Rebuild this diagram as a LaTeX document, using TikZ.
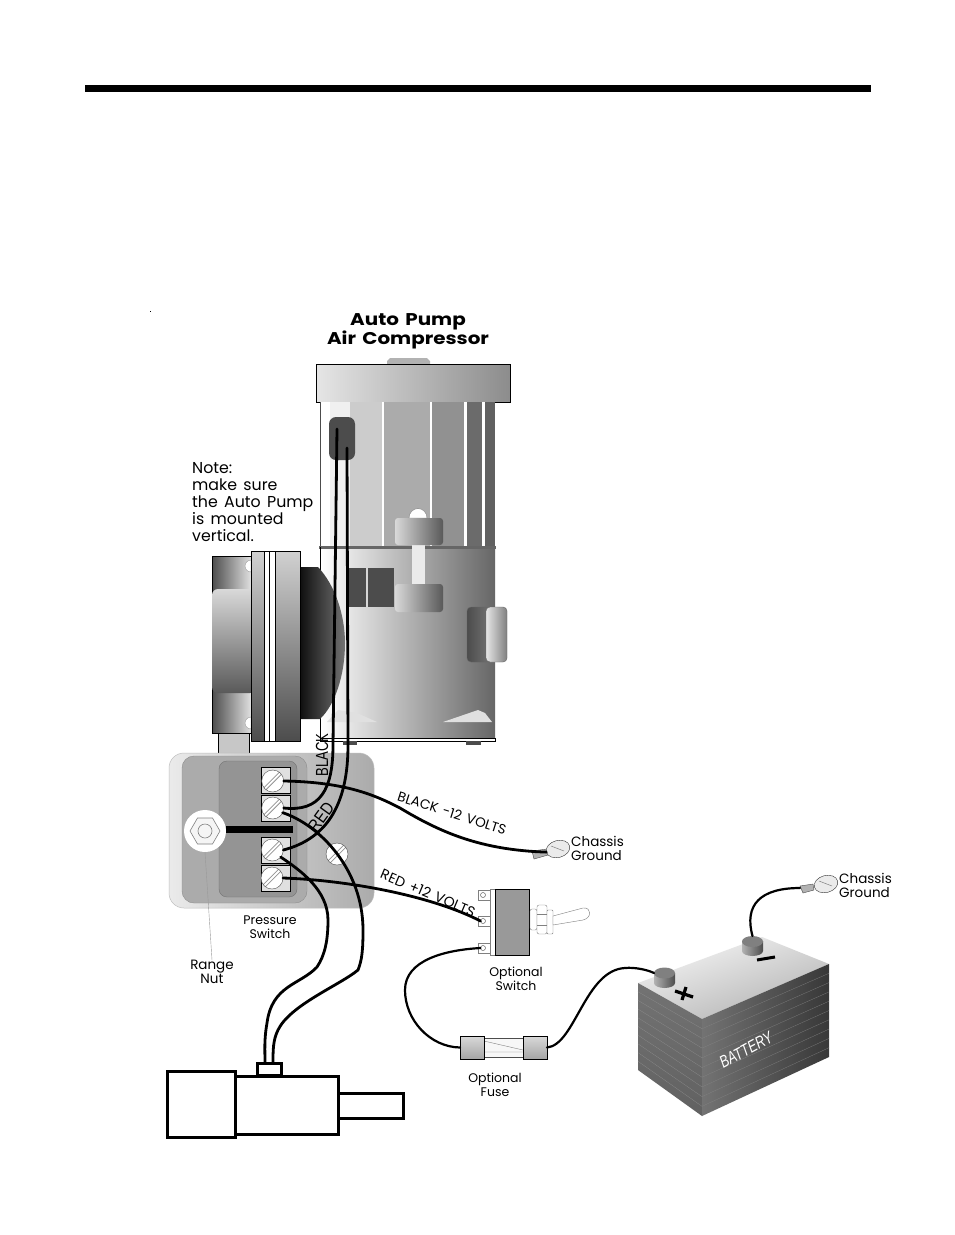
\documentclass[tikz,border=0pt]{standalone}
\usepackage{fontspec}
\setmainfont{Poppins}[WordSpace=1.5]
\newfontfamily\wirefont{Liberation Sans}
\usetikzlibrary{shapes.geometric}
\tikzset{
  screw node/.style={circle,draw=black!70,fill=white,inner sep=0pt,outer sep=0pt,minimum size=22pt,
    path picture={
      \draw[black!42,line width=3.6pt] (path picture bounding box.south west) -- (path picture bounding box.north east);
      \draw[white,line width=1.8pt] (path picture bounding box.south west) -- (path picture bounding box.north east);
    }},
  term node/.style={rectangle,draw=black,line width=1pt,fill=black!12,inner sep=0pt,outer sep=0pt,minimum width=29pt,minimum height=26pt},
  motor node/.style={rectangle,draw=black,line width=3pt,fill=white,inner sep=0pt,outer sep=0pt},
  label node/.style={font=\fontsize{13.5}{14}\selectfont,align=center,inner sep=0pt},
  lug node/.style={ellipse,draw=black!80,fill=black!8,inner sep=0pt,outer sep=0pt,minimum width=24pt,minimum height=17pt},
  hole node/.style={circle,draw=black!60,fill=white,inner sep=0pt,outer sep=0pt,minimum size=5pt,line width=.5pt},
  post node/.style={ellipse,fill=black!50,inner sep=0pt,outer sep=0pt,minimum width=21pt,minimum height=11pt},
}
\begin{document}
\begin{tikzpicture}[x=1pt,y=-1pt,wire/.style={draw=black,line width=2.8pt,line cap=round},
                thin wire/.style={draw=black,line width=2.2pt,line cap=round}]
  \useasboundingbox (0,0) rectangle (954,1235);
  \fill[white] (0,0) rectangle (954,1235);
  \fill[black] (85,85) rectangle (871,92);
  \fill[black] (149.5,311) rectangle (150.5,312);

  % compressor
  \node[font=\bfseries\fontsize{17}{19}\selectfont,align=center,inner sep=0pt] (title) at (408,331.5) {\scalebox{1.17}[1]{Auto Pump}\\\scalebox{1.17}[1]{Air Compressor}};
  \fill[black!30] (387,365) -- (387,361) -- (390,358) -- (427,358) -- (430,361) -- (430,365) -- cycle;
  \shade[left color=black!10,right color=black!45,draw=black,line width=.8pt] (316,364) rectangle (510,402);

  \fill[white] (320,402) rectangle (495,547);
  \fill[black!6] (330,402) rectangle (350,547);
  \fill[black!20] (350,402) rectangle (382,547);
  \fill[black!33] (384,402) rectangle (430,547);
  \fill[black!43] (432,402) rectangle (464,547);
  \fill[black!58] (467,402) rectangle (482,547);
  \fill[black!62] (485,402) rectangle (495,547);
  \draw[black!70,line width=.6pt] (320,402) -- (320,547);
  \shade[left color=white,middle color=black!22,right color=black!60] (320,547) rectangle (495,738);
  \fill[black!60] (319,545.5) rectangle (496,548.5);
  \draw[black,line width=.7pt] (320,547) -- (320,741) -- (495,741) -- (495,738) -- (320,738);
  \fill[black!70] (343,741) rectangle (357,745);
  \fill[black!70] (466,741) rectangle (481,745);
  \fill[black!12] (327,722) -- (338,710) -- (357,713) -- (377,722) -- cycle;
  \fill[black!12] (443,722) -- (478,710) -- (485,713) -- (492,722) -- cycle;

  % clamp and tab
  \fill[white,draw=black!50,line width=.4pt] (409,518) arc[start angle=180,end angle=360,x radius=9,y radius=9.5] -- cycle;
  \fill[black!8] (412,545) rectangle (425,585);
  \shade[left color=black!15,right color=black!65,rounded corners=3pt] (395,518) rectangle (443,545);
  \shade[left color=black!15,right color=black!65,rounded corners=3pt] (395,584) rectangle (443,612);
  \fill[black!70] (347,568) rectangle (366,607);
  \fill[black!70] (368,568) rectangle (394,607);
  \shade[left color=black!70,right color=black!55,rounded corners=4pt,draw=black!60,line width=.4pt] (467,607) rectangle (490,662);
  \shade[left color=black!10,right color=black!50,rounded corners=4pt,draw=black!60,line width=.4pt] (486,607) rectangle (507,662);

  % motor flange
  \shade[left color=black!95,right color=black!55] (299,567) -- (318,567) .. controls (335,585) and (345,615) .. (345,643) .. controls (345,675) and (335,705) .. (320,719) -- (299,719) -- cycle;
  \shade[left color=black!70,right color=black!12,draw=black,line width=.8pt] (212,556) rectangle (251,733);
  \shade[top color=black!15,middle color=black!35,bottom color=black!65,rounded corners=6pt] (212,589) rectangle (256,693);
  \fill[white,draw=black!40,line width=.4pt] (251,560) arc[start angle=270,end angle=90,radius=6] -- cycle;
  \fill[white,draw=black!40,line width=.4pt] (251,717) arc[start angle=270,end angle=90,radius=6] -- cycle;
  \shade[top color=black!18,bottom color=black!70,draw=black,line width=.8pt] (251,551) rectangle (300,741);
  \fill[white,draw=black,line width=.6pt] (264,551) rectangle (275,741);
  \draw[black,line width=.8pt] (269.5,551) -- (269.5,741);
  \fill[black!22,draw=black,line width=.6pt] (218,733) rectangle (249,754);

  % grommet
  \node[rectangle,rounded corners=7pt,fill=black!70,inner sep=0pt,outer sep=0pt,minimum width=26pt,minimum height=43pt] (grommet) at (342,438.5) {};
  \coordinate (g1) at (337,429);
  \coordinate (g2) at (347,448);

  % note
  \node[font=\fontsize{15.8}{17}\selectfont,align=left,anchor=north west,inner sep=0pt] (note) at (192,462.5) {Note:\\make sure\\the Auto Pump\\is mounted\\vertical.};

  % pressure switch
  \shade[left color=black!8,right color=black!33,draw=black!25,line width=.5pt,rounded corners=15pt] (169,753) rectangle (374,908);
  \fill[black!33,draw=black!45,line width=.4pt,rounded corners=12pt] (182,756) rectangle (307,903);
  \fill[black!42,draw=black!55,line width=.4pt,rounded corners=8pt] (219,761) rectangle (297,897);
  \fill[black] (226,826) rectangle (293,833);
  \node[term node] (t1) at (275.5,780) {};
  \node[term node] (t2) at (275.5,808) {};
  \node[term node] (t3) at (275.5,850) {};
  \node[term node] (t4) at (275.5,878) {};
  \node[screw node] (s1) at (272.7,781) {};
  \node[screw node] (s2) at (272.7,808) {};
  \node[screw node] (s3) at (272.3,850) {};
  \node[screw node] (s4) at (272,878) {};
  \node[screw node] (s5) at (337,854) {};
  \node[circle,fill=white,inner sep=0pt,outer sep=0pt,minimum size=42pt] (rnut) at (205,831) {};
  \node[regular polygon,regular polygon sides=6,draw=black!50,line width=.6pt,fill=black!4,inner sep=0pt,minimum size=30pt] at (rnut) {};
  \node[circle,draw=black!50,line width=.6pt,inner sep=0pt,minimum size=14pt] at (rnut) {};
  \node[label node,font=\fontsize{12.5}{14}\selectfont] (pswitch) at (270,927) {Pressure\\Switch};
  \node[label node,font=\fontsize{13.5}{14}\selectfont] (rangenut) at (212,972) {Range\\Nut};
  \draw[black!40,line width=.4pt] (rnut.south) -- (rangenut.north);

  % drive motor
  \node[motor node,minimum width=68pt,minimum height=66pt] (mend) at (201,1104) {};
  \node[motor node,minimum width=103pt,minimum height=58pt] (mbody) at (286.5,1105) {};
  \node[motor node,minimum width=65pt,minimum height=25pt] (mshaft) at (370.5,1105.5) {};
  \node[motor node,minimum width=24pt,minimum height=12pt] (mcap) at (269,1069.5) {};

  % optional switch
  \draw[black!50,line width=.4pt,fill=white] (478,890) rectangle (495,900);
  \draw[black!50,line width=.4pt,fill=white] (478,916) rectangle (495,926);
  \draw[black!50,line width=.4pt,fill=white] (478,943) rectangle (495,953);
  \draw[black!50,line width=.4pt,fill=white] (490,889) rectangle (495,955);
  \node[hole node] (h1) at (483,895) {};
  \node[hole node] (h2) at (483,921) {};
  \node[hole node] (h3) at (483,948) {};
  \node[rectangle,draw=black,line width=.9pt,fill=black!40,inner sep=0pt,outer sep=0pt,minimum width=34pt,minimum height=66pt] (sw) at (512,922) {};
  \draw[black!50,line width=.4pt,fill=white,rounded corners=2pt] (530,909) rectangle (537,930);
  \draw[black!50,line width=.4pt,fill=white,rounded corners=2pt] (537,905) rectangle (547,934);
  \draw[black!50,line width=.4pt] (537,914) -- (547,914) (537,925) -- (547,925);
  \draw[black!50,line width=.4pt,fill=white,rounded corners=1pt] (547,910) rectangle (553,934);
  \draw[black!50,line width=.4pt,fill=white] (553,916) -- (583,908) .. controls (592,907) and (592,918) .. (583,920) -- (553,925) -- cycle;
  \node[label node,font=\fontsize{12.5}{14}\selectfont] (swlabel) at (516,979) {Optional\\Switch};

  % fuse
  \fill[black!3,draw=black!70,line width=.5pt] (484,1038) rectangle (523,1057);
  \draw[black!50,line width=.4pt] (484,1041) -- (523,1050) (484,1052) -- (523,1052);
  \node[rectangle,draw=black,line width=.8pt,inner sep=0pt,outer sep=0pt,minimum width=24pt,minimum height=23pt,
    top color=black!15,middle color=black!55,bottom color=black!35] (fuse1) at (472,1047.5) {};
  \node[rectangle,draw=black,line width=.8pt,inner sep=0pt,outer sep=0pt,minimum width=24pt,minimum height=23pt,
    top color=black!15,middle color=black!55,bottom color=black!35] (fuse2) at (535,1047.5) {};
  \node[label node,font=\fontsize{12.5}{14}\selectfont] (fuselabel) at (495,1085) {Optional\\Fuse};

  % battery
  \coordinate (b1) at (638,983);
  \coordinate (b2) at (762,937);
  \coordinate (b3) at (829,964);
  \coordinate (b4) at (702,1019);
  \coordinate (b5) at (702,1116);
  \coordinate (b6) at (638,1070);
  \coordinate (b7) at (829,1057);
  \shade[top color=black!30,bottom color=black!4,shading angle=200] (b1) -- (b2) -- (b3) -- (b4) -- cycle;
  \shade[top color=black!55,bottom color=black!62] (b1) -- (b4) -- (b5) -- (b6) -- cycle;
  \shade[left color=black!55,right color=black!78] (b4) -- (b3) -- (b7) -- (b5) -- cycle;
  \foreach \i in {1,...,9} {
    \draw[black!44,line width=.2pt] (638,983+\i*8.7) -- (702,1019+\i*9.7);
    \draw[black!48,line width=.2pt] (702,1019+\i*9.7) -- (829,964+\i*9.3);
  }
  \node[font=\wirefont\itshape\fontsize{17}{17}\selectfont,text=white,rotate=28,inner sep=0pt] (batlabel) at (746,1050) {\scalebox{.75}[1]{BATTERY}};
  \draw[black,line width=3pt] (757,960) -- (775,957);
  \draw[black,line width=3.2pt] (675,991) -- (693,997);
  \draw[black,line width=3.2pt] (686,987) -- (682,1000);
  \shade[left color=black!30,right color=black!70] (654,973) -- (654,983) arc[start angle=180,end angle=0,x radius=10.5,y radius=5] -- (675,973) -- cycle;
  \shade[left color=black!30,right color=black!70] (742,941) -- (742,951) arc[start angle=180,end angle=0,x radius=10.5,y radius=5] -- (763,941) -- cycle;
  \node[post node] (pos) at (664.5,973) {};
  \node[post node] (neg) at (752.5,941.5) {};

  % ground lugs
  \fill[black!30,draw=black!70,line width=.4pt] (532,851) -- (547,849) -- (548,855) -- (534,859) -- cycle;
  \node[lug node,rotate=15] (lug1) at (558,849) {};
  \draw[black!50,line width=.5pt] (551,846) -- (564,851);
  \node[label node,align=left,anchor=west] (ground1) at (571,848.5) {Chassis\\Ground};
  \fill[black!30,draw=black!70,line width=.4pt] (800,886) -- (813,884) -- (814,890) -- (803,893) -- cycle;
  \node[lug node,rotate=15] (lug2) at (826,884) {};
  \draw[black!50,line width=.5pt] (819,881) -- (832,886);
  \node[label node,align=left,anchor=west] (ground2) at (839,885.5) {Chassis\\Ground};

  % wire labels
  \node[label node,font=\wirefont\fontsize{17.5}{18}\selectfont,rotate=90] (lblack) at (322,755) {\scalebox{.75}[1]{BLACK}};
  \node[label node,font=\wirefont\fontsize{17.5}{18}\selectfont,rotate=54] (lred) at (321,817) {\scalebox{.85}[1]{RED}};
  \node[label node,font=\fontsize{13.5}{14}\selectfont,rotate=-17.5] (lneg) at (452,813) {BLACK -12 VOLTS};
  \node[label node,font=\fontsize{14}{14}\selectfont,rotate=-23] (lpos) at (428,893) {RED +12 VOLTS};

  % wires
  \path[wire]
    (g1) -- (333,745) .. controls (333,790) and (320,812) .. (s2.east)
    (g2) -- (348,745) .. controls (348,800) and (330,838) .. (s3.east)
    (s1.east) .. controls (345,782) and (375,795) .. (400,808) .. controls (440,832) and (480,850) .. (lug1.west)
    (s4.east) .. controls (345,880) and (430,895) .. (h2.west)
    (s2.-25) .. controls (320,825) and (363,870) .. (363,930) .. controls (363,950) and (362,960) .. (358,970) .. controls (340,985) and (290,1005) .. (278,1030) .. controls (273,1040) and (273,1050) .. ([xshift=4pt]mcap.north)
    (s3.-40) .. controls (300,870) and (328,890) .. (328,920) .. controls (328,940) and (325,955) .. (317,967) .. controls (300,985) and (272,985) .. (267,1023) .. controls (264,1040) and (265,1050) .. ([xshift=-4pt]mcap.north)
  ;
  \path[thin wire]
    (h3.west) .. controls (445,950) and (405,960) .. (405,990) .. controls (405,1020) and (430,1047) .. (fuse1.west)
    (fuse2.east) .. controls (575,1045) and (585,970) .. (625,968) .. controls (635,967) and (648,970) .. (pos.west)
    (neg.north) .. controls (744,905) and (760,888) .. (800,888)
  ;
\end{tikzpicture}
\end{document}
